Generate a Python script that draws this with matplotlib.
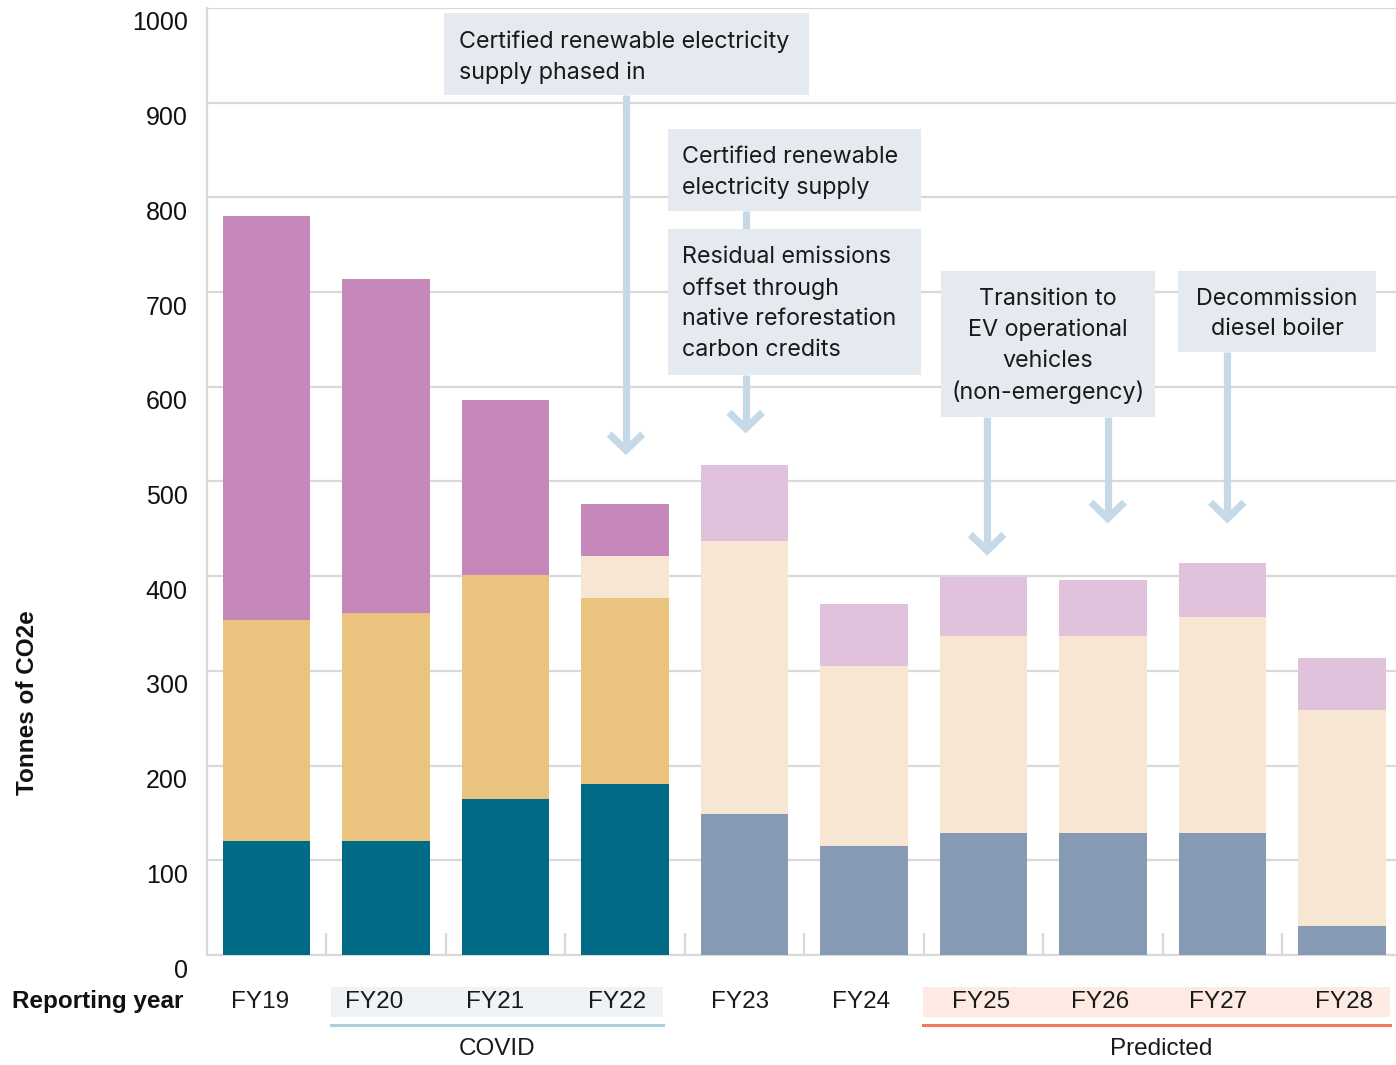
import matplotlib
matplotlib.use("Agg")
import matplotlib.pyplot as plt
import matplotlib.transforms as mtransforms
from matplotlib.patches import Rectangle
import numpy as np

# data (tonnes of CO2e)
years = ["FY19", "FY20", "FY21", "FY22", "FY23", "FY24", "FY25", "FY26", "FY27", "FY28"]
base = [120, 120, 165, 181, 149, 115, 129, 129, 129, 31]
grid_elec = [234, 241, 236, 196, 0, 0, 0, 0, 0, 0]
renewable = [0, 0, 0, 44, 288, 190, 208, 208, 228, 228]
top = [426, 353, 185, 55, 80, 66, 62, 59, 57, 55]
yticks = [0, 100, 200, 300, 400, 500, 600, 700, 800, 900, 1000]

base_colors = ["#006A87"] * 4 + ["#869BB3"] * 6
top_colors = ["#C688BA"] * 4 + ["#E0C2DC"] * 6
GOLD = "#EAC47E"
CREAM = "#F7E7D2"
GRID = "#D9D9D9"
BOX = "#E4EAF0"
ARROW = "#C5DAE6"

# small horizontal nudges of the year labels (the source does not centre them exactly)
label_nudge = [-0.054, -0.10, -0.088, -0.067, -0.038, -0.025, -0.021, -0.025, -0.038, 0.017]

plt.rcParams['font.family'] = ['Liberation Sans', 'DejaVu Sans']

fig = plt.figure(figsize=(13.96, 10.65), dpi=100)
ax = fig.add_axes([207 / 1396, 110 / 1065, 1 - 207 / 1396, 947 / 1065])

x = np.arange(len(years))
w = 0.73
b = np.array(base)
g = np.array(grid_elec)
r = np.array(renewable)
t = np.array(top)
ax.bar(x, b, w, color=base_colors, zorder=3)
ax.bar(x, g, w, bottom=b, color=GOLD, zorder=3)
ax.bar(x, r, w, bottom=b + g, color=CREAM, zorder=3)
ax.bar(x, t, w, bottom=b + g + r, color=top_colors, zorder=3)

ax.set_xlim(-0.498, 9.452)
ax.set_ylim(0, 1000)
ax.set_yticks(yticks)
ax.set_yticklabels([str(v) for v in yticks], fontsize=18, color="#111111")
ax.yaxis.grid(True, color=GRID, linewidth=1.6, zorder=0)
ax.tick_params(axis="y", length=0, pad=14)
off = mtransforms.ScaledTranslation(0, -0.13, fig.dpi_scale_trans)
for lab in ax.get_yticklabels():
    lab.set_transform(lab.get_transform() + off)

ax.set_xticks([])
ax.set_xticks(np.arange(0.5, 9), minor=True)
ax.tick_params(axis="x", which="minor", direction="in", length=16, width=1.6, color=GRID)
for s in ["top", "right"]:
    ax.spines[s].set_visible(False)
for s in ["left", "bottom"]:
    ax.spines[s].set_color(GRID)
    ax.spines[s].set_linewidth(1.6)

# annotation boxes
def box(x0, x1, y0, y1):
    ax.add_patch(Rectangle((x0, y0), x1 - x0, y1 - y0, facecolor=BOX, edgecolor="none", zorder=5))

def arrow(xc, y_from, y_tip):
    ax.plot([xc, xc], [y_from, y_tip + 4], color=ARROW, lw=5.2, solid_capstyle="butt", zorder=4)
    ax.plot([xc - 0.14, xc, xc + 0.14], [y_tip + 17, y_tip, y_tip + 17], color=ARROW, lw=5.2,
            solid_joinstyle="miter", solid_capstyle="butt", zorder=4)

tf = dict(fontsize=16.8, color="#1a1a1a", zorder=6, linespacing=1.5, family=['Inter', 'DejaVu Sans'])

box(1.485, 4.54, 908, 995)
ax.text(1.61, 948, "Certified renewable electricity\nsupply phased in", ha="left", va="center", **tf)
arrow(3.008, 908, 533)

box(3.36, 5.48, 786, 872)
ax.text(3.48, 826, "Certified renewable\nelectricity supply", ha="left", va="center", **tf)
ax.plot([4.01, 4.01], [767, 786], color=ARROW, lw=5.2, solid_capstyle="butt", zorder=4)
box(3.36, 5.48, 612, 767)
ax.text(3.48, 688, "Residual emissions\noffset through\nnative reforestation\ncarbon credits",
        ha="left", va="center", **tf)
arrow(4.01, 612, 556)

box(5.644, 7.435, 568, 722)
ax.text(6.54, 643, "Transition to\nEV operational\nvehicles\n(non-emergency)", ha="center", va="center", **tf)
arrow(6.03, 568, 427)
arrow(7.04, 568, 461)

box(7.628, 9.285, 637, 722)
ax.text(8.456, 677, "Decommission\ndiesel boiler", ha="center", va="center", **tf)
arrow(8.04, 637, 461)

# bottom labels and group bands
bt = mtransforms.blended_transform_factory(ax.transData, ax.transAxes)
ax.add_patch(Rectangle((0.54, -0.0655), 3.318 - 0.54, 0.0317, transform=bt, facecolor="#EFF3F6",
                       edgecolor="none", clip_on=False, zorder=1))
ax.add_patch(Rectangle((5.494, -0.0655), 9.40 - 5.494, 0.0317, transform=bt, facecolor="#FDEBE3",
                       edgecolor="none", clip_on=False, zorder=1))
ax.plot([0.54, 3.318], [-0.0739, -0.0739], transform=bt, color="#AFCFDF", lw=2.2, clip_on=False)
ax.plot([5.494, 9.40], [-0.0739, -0.0739], transform=bt, color="#F07A5A", lw=2.2, clip_on=False)
for i, yr in enumerate(years):
    ax.text(i + label_nudge[i], -0.0495, yr, transform=bt, ha="center", va="center", fontsize=17.5,
            color="#1a1a1a")
ax.text(1.93, -0.0995, "COVID", transform=bt, ha="center", va="center", fontsize=17.5, color="#1a1a1a")
ax.text(7.485, -0.0995, "Predicted", transform=bt, ha="center", va="center", fontsize=17.5, color="#1a1a1a")
ax.text(-0.699, -0.0495, "Reporting year", transform=bt, ha="right", va="center", fontsize=17.5,
        fontweight="bold", color="#111111")

fig.text(28 / 1396, 1 - 703 / 1065, "Tonnes of CO2e", rotation=90, ha="center", va="center",
         fontsize=17.5, fontweight="bold", color="#111111")

fig.savefig("out.png", dpi=100)
